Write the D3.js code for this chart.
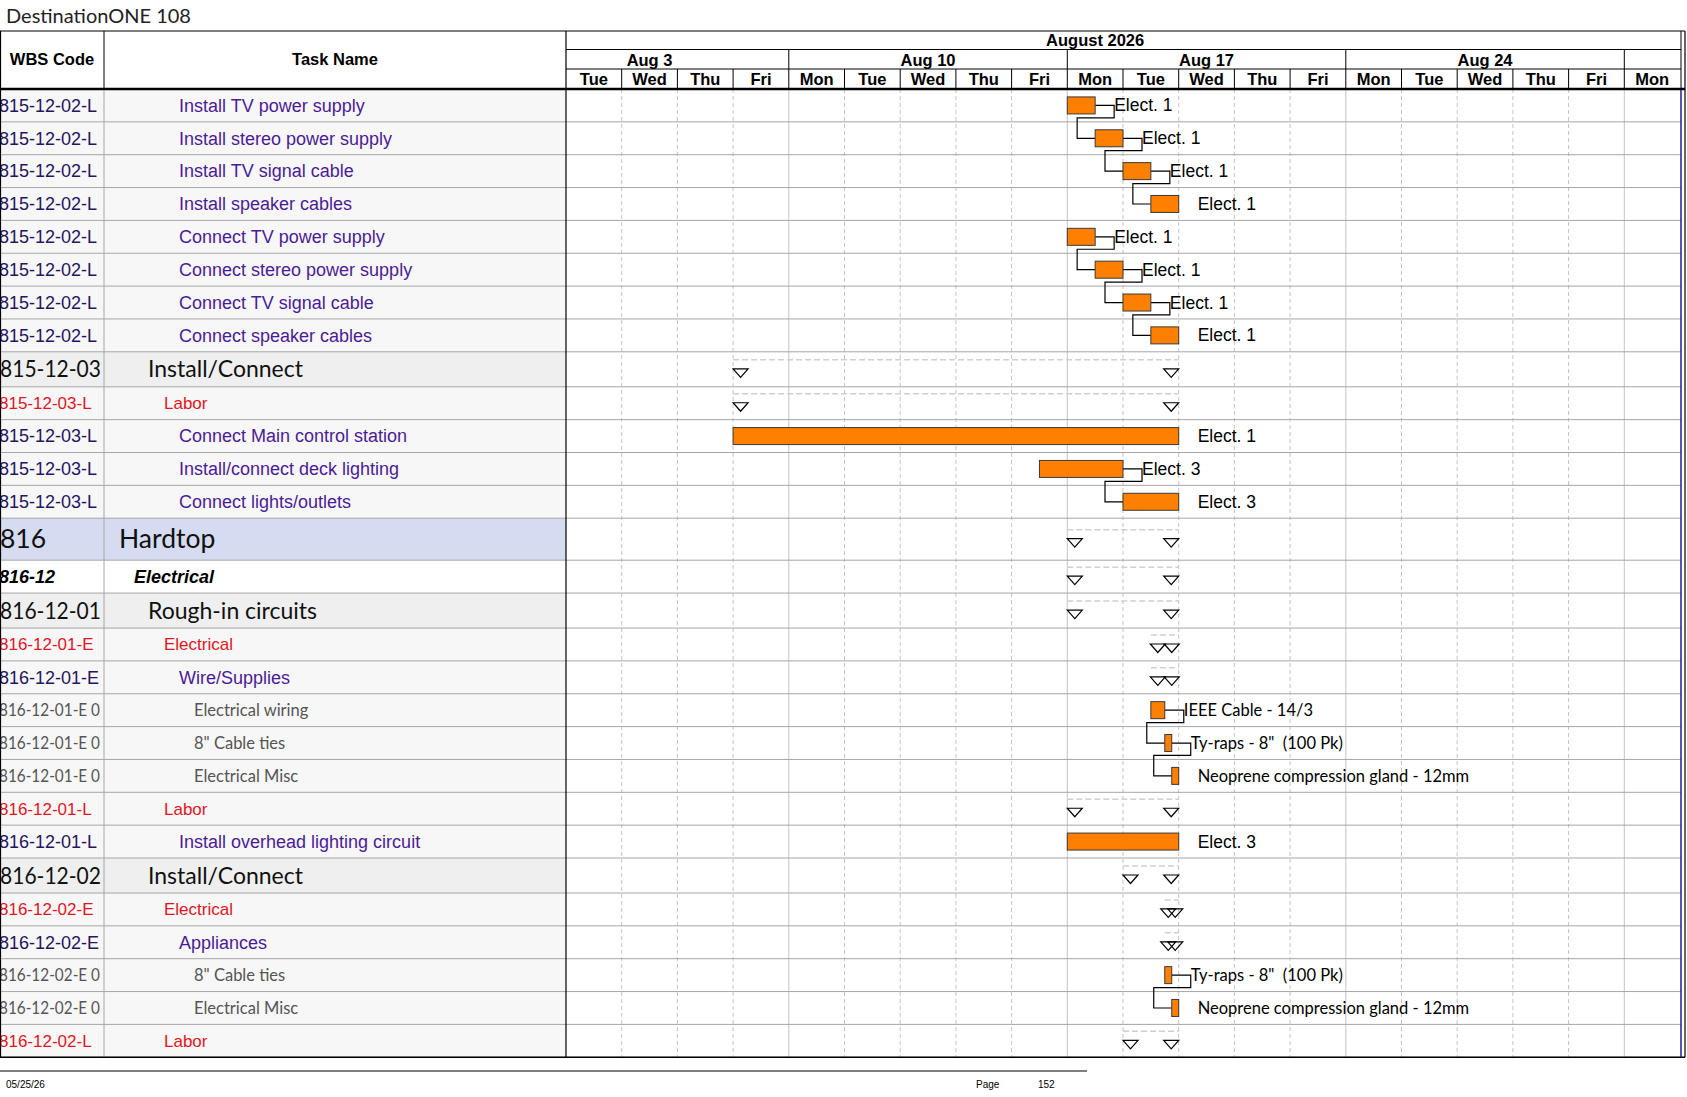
<!DOCTYPE html>
<html>
<head>
<meta charset="utf-8">
<title>DestinationONE 108</title>
<script src="https://cdn.jsdelivr.net/npm/d3@7"></script>
<style>
    body { margin: 0; background: #ffffff; }
    svg { display: block; }
    text { white-space: pre; }
</style>
</head>
<body>
<svg id="gantt"></svg>
<script>
// working-day columns shown in the timeline (Tue Aug 4 .. Mon Aug 31)
const DAY_LABELS = ["Tue", "Wed", "Thu", "Fri", "Mon", "Tue", "Wed", "Thu", "Fri", "Mon",
                    "Tue", "Wed", "Thu", "Fri", "Mon", "Tue", "Wed", "Thu", "Fri", "Mon"];
// week bands, in working-day offsets from Tue Aug 4 (first one starts off-page)
const WEEK_LABELS = ["Aug 3", "Aug 10", "Aug 17", "Aug 24", ""];
const WEEK_STARTS = [-1, 4, 9, 14, 19];
const WEEK_ENDS = [4, 9, 14, 19, 24];
const MONTH_LABELS = ["August 2026"];
const MONTH_STARTS = [-1];
const MONTH_ENDS = [20];

// table rows
const WBS_CODES = [
    "815-12-02-L", "815-12-02-L", "815-12-02-L", "815-12-02-L",
    "815-12-02-L", "815-12-02-L", "815-12-02-L", "815-12-02-L",
    "815-12-03", "815-12-03-L", "815-12-03-L", "815-12-03-L", "815-12-03-L",
    "816", "816-12", "816-12-01", "816-12-01-E", "816-12-01-E",
    "816-12-01-E 0", "816-12-01-E 0", "816-12-01-E 0",
    "816-12-01-L", "816-12-01-L", "816-12-02", "816-12-02-E", "816-12-02-E",
    "816-12-02-E 0", "816-12-02-E 0", "816-12-02-L"
];
const TASK_NAMES = [
    "Install TV power supply", "Install stereo power supply", "Install TV signal cable", "Install speaker cables",
    "Connect TV power supply", "Connect stereo power supply", "Connect TV signal cable", "Connect speaker cables",
    "Install/Connect", "Labor", "Connect Main control station", "Install/connect deck lighting", "Connect lights/outlets",
    "Hardtop", "Electrical", "Rough-in circuits", "Electrical", "Wire/Supplies",
    "Electrical wiring", "8\" Cable ties", "Electrical Misc",
    "Labor", "Install overhead lighting circuit", "Install/Connect", "Electrical", "Appliances",
    "8\" Cable ties", "Electrical Misc", "Labor"
];
const ROW_KINDS = [
    "task", "task", "task", "task", "task", "task", "task", "task",
    "section", "cost", "task", "task", "task",
    "hardtop", "group", "section", "cost", "task",
    "item", "item", "item",
    "cost", "task", "section", "cost", "task",
    "item", "item", "cost"
];

// schedule, in working days from Tue Aug 4 08:00
const TASK_START = [9, 9.5, 10, 10.5, 9, 9.5, 10, 10.5,
                    3, 3, 3, 8.5, 10,
                    9, 9, 9, 10.5, 10.5,
                    10.5, 10.75, 10.875,
                    9, 9, 10, 10.75, 10.75,
                    10.75, 10.875, 10];
const TASK_END = [9.5, 10, 10.5, 11, 9.5, 10, 10.5, 11,
                  11, 11, 11, 10, 11,
                  11, 11, 11, 11, 11,
                  10.75, 10.875, 11,
                  11, 11, 11, 11, 11,
                  10.875, 11, 11];
const IS_SUMMARY = [false, false, false, false, false, false, false, false,
                    true, true, false, false, false,
                    true, true, true, true, true,
                    false, false, false,
                    true, false, true, true, true,
                    false, false, true];
const RESOURCE_LABELS = ["Elect. 1", "Elect. 1", "Elect. 1", "Elect. 1",
                         "Elect. 1", "Elect. 1", "Elect. 1", "Elect. 1",
                         "", "", "Elect. 1", "Elect. 3", "Elect. 3",
                         "", "", "", "", "",
                         "IEEE Cable - 14/3", "Ty-raps - 8\"  (100 Pk)", "Neoprene compression gland - 12mm",
                         "", "Elect. 3", "", "", "",
                         "Ty-raps - 8\"  (100 Pk)", "Neoprene compression gland - 12mm", ""];
// finish-to-start links [predecessor row, successor row]
const LINKS = [[0, 1], [1, 2], [2, 3], [4, 5], [5, 6], [6, 7], [11, 12], [18, 19], [19, 20], [26, 27]];

const WIDTH = 1687;
const HEIGHT = 1097;
const TABLE_TOP = 31;
const HEADER_BOTTOM = 89;
const WBS_RIGHT = 104;
const NAME_RIGHT = 566;
const CHART_RIGHT = 1681;
const OUTER_RIGHT = 1685;
const BAR_H = 17;

const ARIAL = "'Liberation Sans', Arial, sans-serif";
const CALIBRI = "Lato, sans-serif";

// codeFit: squeeze the WBS code into the column instead of cutting it
const ROW_STYLE = {
    task:    { h: 32.85, bg: "#f7f7f7", codeColor: "#26145e", color: "#4b1b97", font: ARIAL, size: 18, weight: "normal", style: "normal", indent: 179, codeX: -1, codeFit: null },
    cost:    { h: 32.85, bg: "#f7f7f7", codeColor: "#e3151f", color: "#e3151f", font: ARIAL, size: 17, weight: "normal", style: "normal", indent: 164, codeX: -1, codeFit: null },
    section: { h: 35, bg: "#efefef", codeColor: "#111111", color: "#111111", font: CALIBRI, size: 23, weight: "normal", style: "normal", indent: 148, codeX: 0, codeFit: 101 },
    hardtop: { h: 42, bg: "#d5dbf0", codeColor: "#111111", color: "#111111", font: CALIBRI, size: 26.5, weight: "normal", style: "normal", indent: 119, codeX: 0, codeFit: null },
    group:   { h: 32.85, bg: "#ffffff", codeColor: "#000000", color: "#000000", font: ARIAL, size: 18, weight: "bold", style: "italic", indent: 134, codeX: -1, codeFit: null },
    item:    { h: 32.85, bg: "#f7f7f7", codeColor: "#555555", color: "#555555", font: CALIBRI, size: 16.5, weight: "normal", style: "normal", indent: 194, codeX: -1, codeFit: 101 }
};

window.onload = function(){
    drawGantt();
};

function drawGantt(){
    let svg = d3.select("#gantt")
        .attr("width", WIDTH)
        .attr("height", HEIGHT);

    // build row objects from the arrays, stacking row heights
    let rows = [];
    let y = HEADER_BOTTOM;
    for (let i = 0; i < WBS_CODES.length; i++){
        let st = ROW_STYLE[ROW_KINDS[i]];
        rows.push({
            i: i, code: WBS_CODES[i], name: TASK_NAMES[i], kind: ROW_KINDS[i], st: st,
            y0: y, y1: y + st.h, cy: y + st.h / 2,
            start: TASK_START[i], end: TASK_END[i], summary: IS_SUMMARY[i], label: RESOURCE_LABELS[i]
        });
        y += st.h;
    }
    const TABLE_BOTTOM = y;

    // working-day scale for the timeline
    let xScale = d3.scaleLinear()
        .domain([0, DAY_LABELS.length])
        .range([NAME_RIGHT, CHART_RIGHT - 1]);

    let defs = svg.append("defs");
    defs.append("clipPath").attr("id", "clipName")
        .append("rect").attr("x", WBS_RIGHT).attr("y", 0).attr("width", NAME_RIGHT - WBS_RIGHT).attr("height", HEIGHT);
    defs.append("clipPath").attr("id", "clipChart")
        .append("rect").attr("x", NAME_RIGHT).attr("y", 0).attr("width", CHART_RIGHT - NAME_RIGHT).attr("height", HEIGHT);

    // title
    svg.append("text")
        .attr("x", 6)
        .attr("y", 23)
        .attr("font-family", "Lato, 'DejaVu Sans', sans-serif")
        .attr("font-size", "20px")
        .attr("fill", "#222")
        .text("DestinationONE 108");

    // row backgrounds on the table side
    svg.append("g").selectAll("rect")
        .data(rows)
        .enter()
        .append("rect")
        .attr("x", 0)
        .attr("y", function(d){ return d.y0; })
        .attr("width", NAME_RIGHT)
        .attr("height", function(d){ return d.st.h; })
        .attr("fill", function(d){ return d.st.bg; });

    // day and week grid lines in the chart
    let grid = svg.append("g");
    grid.selectAll("line.day")
        .data(d3.range(1, DAY_LABELS.length))
        .enter()
        .append("line")
        .attr("x1", function(d){ return xScale(d); })
        .attr("x2", function(d){ return xScale(d); })
        .attr("y1", HEADER_BOTTOM)
        .attr("y2", TABLE_BOTTOM)
        .attr("stroke", "#c4c4c4")
        .attr("stroke-width", 1)
        .attr("stroke-dasharray", function(d){ return WEEK_STARTS.indexOf(d) >= 0 ? null : "4,3"; });

    // horizontal row lines
    svg.append("g").selectAll("line")
        .data(rows)
        .enter()
        .append("line")
        .attr("x1", 0)
        .attr("x2", CHART_RIGHT)
        .attr("y1", function(d){ return d.y1; })
        .attr("y2", function(d){ return d.y1; })
        .attr("stroke", "#a6a6a6")
        .attr("stroke-width", 1);

    // table column lines (body)
    svg.append("line")
        .attr("x1", WBS_RIGHT).attr("x2", WBS_RIGHT)
        .attr("y1", HEADER_BOTTOM).attr("y2", TABLE_BOTTOM)
        .attr("stroke", "#a6a6a6");

    // WBS codes
    let codes = svg.append("g")
        .selectAll("text")
        .data(rows)
        .enter()
        .append("text")
        .attr("x", function(d){ return d.st.codeX; })
        .attr("y", function(d){ return d.cy + d.st.size * 0.35; })
        .attr("font-family", function(d){ return d.st.font; })
        .attr("font-size", function(d){ return d.st.size + "px"; })
        .attr("font-weight", function(d){ return d.st.weight; })
        .attr("font-style", function(d){ return d.st.style; })
        .attr("fill", function(d){ return d.st.codeColor; })
        .text(function(d){ return d.code; });
    codes.filter(function(d){ return d.st.codeFit; })
        .attr("textLength", function(d){ return d.st.codeFit; })
        .attr("lengthAdjust", "spacingAndGlyphs");

    // task names
    svg.append("g").attr("clip-path", "url(#clipName)")
        .selectAll("text")
        .data(rows)
        .enter()
        .append("text")
        .attr("x", function(d){ return d.st.indent; })
        .attr("y", function(d){ return d.cy + d.st.size * 0.35; })
        .attr("font-family", function(d){ return d.st.font; })
        .attr("font-size", function(d){ return d.st.size + "px"; })
        .attr("font-weight", function(d){ return d.st.weight; })
        .attr("font-style", function(d){ return d.st.style; })
        .attr("fill", function(d){ return d.st.color; })
        .text(function(d){ return d.name; });

    drawHeader(svg, xScale);

    // summary rows: dashed rule with hollow end triangles
    let summaries = rows.filter(function(d){ return d.summary; });
    let sumG = svg.append("g");
    sumG.selectAll("line")
        .data(summaries)
        .enter()
        .append("line")
        .attr("x1", function(d){ return xScale(d.start); })
        .attr("x2", function(d){ return xScale(d.end); })
        .attr("y1", function(d){ return d.cy - 9.5; })
        .attr("y2", function(d){ return d.cy - 9.5; })
        .attr("stroke", "#d0d0d0")
        .attr("stroke-width", 1.5)
        .attr("stroke-dasharray", "6,3");

    let tri = function(cx, top){
        return "M" + (cx - 7.5) + "," + top + "L" + (cx + 7.5) + "," + top + "L" + cx + "," + (top + 8.5) + "Z";
    };
    sumG.selectAll("path")
        .data(summaries.flatMap(function(d){
            let x0 = xScale(d.start), x1 = xScale(d.end);
            let off = Math.min(7.5, (x1 - x0) / 4);
            return [{ cx: x0 + off, top: d.cy - 0.5 }, { cx: x1 - off, top: d.cy - 0.5 }];
        }))
        .enter()
        .append("path")
        .attr("d", function(d){ return tri(d.cx, d.top); })
        .attr("fill", "none")
        .attr("stroke", "#000")
        .attr("stroke-width", 1.2);

    // dependency links
    svg.append("g").selectAll("path")
        .data(LINKS)
        .enter()
        .append("path")
        .attr("d", function(d){
            let p = rows[d[0]], s = rows[d[1]];
            let xe = xScale(p.end), xs = xScale(s.start);
            let drop = p.y1 - 4;
            return "M" + xe + "," + p.cy + "H" + (xe + 19) + "V" + drop +
                   "H" + (xs - 18) + "V" + s.cy + "H" + xs;
        })
        .attr("fill", "none")
        .attr("stroke", "#000")
        .attr("stroke-width", 1.2);

    // task bars
    let tasks = rows.filter(function(d){ return !d.summary; });
    svg.append("g").selectAll("rect")
        .data(tasks)
        .enter()
        .append("rect")
        .attr("x", function(d){ return xScale(d.start); })
        .attr("y", function(d){ return d.cy - BAR_H / 2; })
        .attr("width", function(d){ return xScale(d.end) - xScale(d.start); })
        .attr("height", BAR_H)
        .attr("fill", "#ff8000")
        .attr("stroke", "#3a3a3a")
        .attr("stroke-width", 1);

    // resource labels to the right of bars
    svg.append("g").selectAll("text")
        .data(tasks)
        .enter()
        .append("text")
        .attr("x", function(d){ return xScale(d.end) + 19; })
        .attr("y", function(d){ return d.cy + 6; })
        .attr("font-family", function(d){ return d.kind === "item" ? CALIBRI : ARIAL; })
        .attr("font-size", function(d){ return d.kind === "item" ? "16.5px" : "17.5px"; })
        .attr("fill", "#000")
        .text(function(d){ return d.label; });

    // frame lines
    let frame = svg.append("g").attr("stroke", "#000").attr("fill", "none");
    frame.append("line").attr("x1", 0).attr("x2", OUTER_RIGHT).attr("y1", TABLE_TOP).attr("y2", TABLE_TOP).attr("stroke-width", 1.2);
    frame.append("line").attr("x1", 0).attr("x2", OUTER_RIGHT).attr("y1", HEADER_BOTTOM).attr("y2", HEADER_BOTTOM).attr("stroke-width", 2.5);
    frame.append("line").attr("x1", 0).attr("x2", OUTER_RIGHT).attr("y1", TABLE_BOTTOM).attr("y2", TABLE_BOTTOM).attr("stroke-width", 1.5);
    frame.append("line").attr("x1", 0.5).attr("x2", 0.5).attr("y1", TABLE_TOP).attr("y2", TABLE_BOTTOM).attr("stroke-width", 1.2);
    frame.append("line").attr("x1", WBS_RIGHT).attr("x2", WBS_RIGHT).attr("y1", TABLE_TOP).attr("y2", HEADER_BOTTOM);
    frame.append("line").attr("x1", NAME_RIGHT).attr("x2", NAME_RIGHT).attr("y1", TABLE_TOP).attr("y2", TABLE_BOTTOM).attr("stroke-width", 1.2);
    frame.append("line").attr("x1", CHART_RIGHT).attr("x2", CHART_RIGHT).attr("y1", TABLE_TOP).attr("y2", HEADER_BOTTOM);
    frame.append("line").attr("x1", OUTER_RIGHT).attr("x2", OUTER_RIGHT).attr("y1", TABLE_TOP).attr("y2", TABLE_BOTTOM).attr("stroke-width", 1.2);
    // blue finish marker on the chart's right edge
    svg.append("line")
        .attr("x1", CHART_RIGHT).attr("x2", CHART_RIGHT)
        .attr("y1", HEADER_BOTTOM + 1).attr("y2", TABLE_BOTTOM)
        .attr("stroke", "#1c1c9a")
        .attr("stroke-width", 1.5);

    // footer
    svg.append("line")
        .attr("x1", 0).attr("x2", 1087)
        .attr("y1", 1071).attr("y2", 1071)
        .attr("stroke", "#000").attr("stroke-width", 1.2);
    let foot = svg.append("g")
        .attr("font-family", "'Liberation Sans Narrow', 'Arial Narrow', 'Liberation Sans', sans-serif")
        .attr("font-size", "10px")
        .attr("fill", "#000");
    foot.append("text").attr("x", 6).attr("y", 1088).text("05/25/26");
    foot.append("text").attr("x", 976).attr("y", 1088).text("Page");
    foot.append("text").attr("x", 1038).attr("y", 1088).text("152");
}

function drawHeader(svg, xScale){
    let tiers = [
        { y0: TABLE_TOP, y1: 49.5 },
        { y0: 49.5, y1: 69 },
        { y0: 69, y1: HEADER_BOTTOM }
    ];

    // column headers of the table
    let hdr = svg.append("g")
        .attr("font-family", ARIAL)
        .attr("font-weight", "bold")
        .attr("font-size", "16.5px")
        .attr("text-anchor", "middle");
    hdr.append("text").attr("x", WBS_RIGHT / 2).attr("y", 65).text("WBS Code");
    hdr.append("text").attr("x", (WBS_RIGHT + NAME_RIGHT) / 2).attr("y", 65).text("Task Name");

    let g = svg.append("g")
        .attr("clip-path", "url(#clipChart)")
        .attr("font-family", ARIAL)
        .attr("font-weight", "bold")
        .attr("font-size", "16.5px")
        .attr("text-anchor", "middle");

    // tier separators
    g.selectAll("line.tier")
        .data(tiers.slice(1))
        .enter()
        .append("line")
        .attr("x1", NAME_RIGHT).attr("x2", CHART_RIGHT)
        .attr("y1", function(d){ return d.y0; })
        .attr("y2", function(d){ return d.y0; })
        .attr("stroke", "#000");

    // month tier
    g.selectAll("text.month")
        .data(MONTH_LABELS)
        .enter()
        .append("text")
        .attr("x", function(d, i){ return (xScale(MONTH_STARTS[i]) + xScale(MONTH_ENDS[i])) / 2; })
        .attr("y", tiers[0].y1 - 3.5)
        .text(function(d){ return d; });

    // week tier
    g.selectAll("line.week")
        .data(WEEK_STARTS)
        .enter()
        .append("line")
        .attr("x1", function(d){ return xScale(d); })
        .attr("x2", function(d){ return xScale(d); })
        .attr("y1", tiers[1].y0)
        .attr("y2", tiers[1].y1)
        .attr("stroke", "#000");
    g.selectAll("text.week")
        .data(WEEK_LABELS)
        .enter()
        .append("text")
        .attr("x", function(d, i){ return (xScale(WEEK_STARTS[i]) + xScale(WEEK_ENDS[i])) / 2; })
        .attr("y", tiers[1].y1 - 3.5)
        .text(function(d){ return d; });

    // day tier
    g.selectAll("line.day")
        .data(d3.range(1, DAY_LABELS.length))
        .enter()
        .append("line")
        .attr("x1", function(d){ return xScale(d); })
        .attr("x2", function(d){ return xScale(d); })
        .attr("y1", tiers[2].y0)
        .attr("y2", tiers[2].y1)
        .attr("stroke", "#000");
    g.selectAll("text.day")
        .data(DAY_LABELS)
        .enter()
        .append("text")
        .attr("x", function(d, i){ return xScale(i + 0.5); })
        .attr("y", tiers[2].y1 - 4.5)
        .text(function(d){ return d; });
}
</script>
</body>
</html>
